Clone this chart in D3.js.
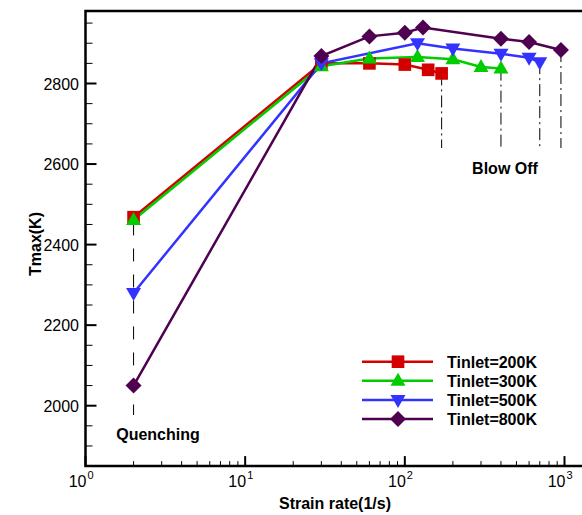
<!DOCTYPE html>
<html><head><meta charset="utf-8">
<script src="https://cdn.jsdelivr.net/npm/d3@7"></script>
<style>body{margin:0;background:#fff}svg{display:block}text{font-family:"Liberation Sans",Arial,sans-serif}</style>
</head><body><svg id="c" width="582" height="515"></svg>
<script>
const seriesNames = ["Tinlet=200K","Tinlet=300K","Tinlet=500K","Tinlet=800K"];
const colors = ["#d40000","#00cc00","#3333ff","#500050"];
const symbols = ["square","triangle","triangleDown","diamond"];
const strain200 = [2, 30, 60, 100, 140, 170];
const tmax200   = [2468, 2850, 2850, 2847, 2834, 2825];
const strain300 = [2, 30, 60, 120, 200, 300, 400];
const tmax300   = [2461, 2843, 2862, 2866, 2860, 2841, 2837];
const strain500 = [2, 30, 120, 200, 400, 600, 700];
const tmax500   = [2280, 2850, 2900, 2887, 2874, 2864, 2853];
const strain800 = [2, 30, 60, 100, 130, 400, 600, 950];
const tmax800   = [2050, 2868, 2917, 2926, 2939, 2911, 2903, 2883];
const yMajorTicks = [2000, 2200, 2400, 2600, 2800];
const xMajorTicks = [1, 10, 100, 1000];
const xTickExponents = ["0","1","2","3"];
const quenchStrain = 2;
const blowOffStrain = [170, 400, 700, 950];
const blowOffTmax = [2825, 2837, 2853, 2883];

const svg = d3.select("#c");
const x = d3.scaleLog().domain([1, 1000]).range([85.5, 564.5]);
const y = d3.scaleLinear().domain([2000, 2800]).range([405.7, 83.5]);
const pTop = y(2980), pBottom = y(1850), pLeft = x(1), pRight = 582;

const data = [
  strain200.map((s,i)=>[s,tmax200[i]]),
  strain300.map((s,i)=>[s,tmax300[i]]),
  strain500.map((s,i)=>[s,tmax500[i]]),
  strain800.map((s,i)=>[s,tmax800[i]])
];

const xMinor = [];
for (let d = 1; d <= 1000; d *= 10) for (let k = 2; k <= 9; k++) if (x(d*k) < pRight) xMinor.push(d*k);
const yMinor = d3.range(1850, 2981, 50).filter(v => !yMajorTicks.includes(v));

const g = svg.append("g");
g.selectAll(".xm").data(xMinor).join("line")
  .attr("x1", d=>x(d)).attr("x2", d=>x(d)).attr("y1", pBottom).attr("y2", pBottom-5)
  .attr("stroke","#000").attr("stroke-width",1);
g.selectAll(".xM").data(xMajorTicks).join("line")
  .attr("x1", d=>x(d)).attr("x2", d=>x(d)).attr("y1", pBottom).attr("y2", pBottom-10)
  .attr("stroke","#000").attr("stroke-width",2);
g.selectAll(".ym").data(yMinor).join("line")
  .attr("x1", pLeft).attr("x2", pLeft+7).attr("y1", d=>y(d)).attr("y2", d=>y(d))
  .attr("stroke","#000").attr("stroke-width",1);
g.selectAll(".yM").data(yMajorTicks).join("line")
  .attr("x1", pLeft).attr("x2", pLeft+11).attr("y1", d=>y(d)).attr("y2", d=>y(d))
  .attr("stroke","#000").attr("stroke-width",2);

g.append("path").attr("d", `M${pRight},${pTop}H${pLeft}V${pBottom}H${pRight}`)
  .attr("fill","none").attr("stroke","#000").attr("stroke-width",2.5);

g.selectAll(".yl").data(yMajorTicks).join("text")
  .attr("x", 79).attr("y", d=>y(d)+6).attr("text-anchor","end")
  .attr("font-size",16).text(d=>d);
xMajorTicks.forEach((d,i)=>{
  g.append("text").attr("x", x(d)+1).attr("y", 487).attr("text-anchor","end")
    .attr("font-size",16).text("10");
  g.append("text").attr("x", x(d)+2).attr("y", 479).attr("font-size",11).text(xTickExponents[i]);
});

g.append("text").attr("x", 335).attr("y", 509).attr("text-anchor","middle")
  .attr("font-size",16).attr("font-weight","bold").text("Strain rate(1/s)");
g.append("text").attr("transform","translate(41,244) rotate(-90)").attr("text-anchor","middle")
  .attr("font-size",16).attr("font-weight","bold").text("Tmax(K)");

g.append("line").attr("x1", x(quenchStrain)).attr("x2", x(quenchStrain))
  .attr("y1", y(2455)).attr("y2", 415).attr("stroke","#000").attr("stroke-width",1)
  .attr("stroke-dasharray","13,13");
blowOffStrain.forEach((s,i)=>{
  g.append("line").attr("x1", x(s)).attr("x2", x(s)).attr("y1", y(blowOffTmax[i])).attr("y2", 148)
    .attr("stroke","#000").attr("stroke-width",1).attr("stroke-dasharray","12,4,2,4");
});

g.append("text").attr("x", 158).attr("y", 440).attr("text-anchor","middle")
  .attr("font-size",16).attr("font-weight","bold").text("Quenching");
g.append("text").attr("x", 505).attr("y", 174).attr("text-anchor","middle")
  .attr("font-size",16).attr("font-weight","bold").text("Blow Off");

const line = d3.line().x(d=>x(d[0])).y(d=>y(d[1]));
function sym(k){
  if (k==="square") return d3.symbol(d3.symbolSquare, 160)();
  if (k==="diamond") return "M0,-8L8,0L0,8L-8,0Z";
  if (k==="triangle") return "M0,-8L7.5,5L-7.5,5Z";
  return "M0,8L7.5,-5L-7.5,-5Z";
}
data.forEach((ser,i)=>{
  g.append("path").datum(ser).attr("d", line).attr("fill","none")
    .attr("stroke", colors[i]).attr("stroke-width",2.5);
});
data.forEach((ser,i)=>{
  g.selectAll(null).data(ser).join("path")
    .attr("transform", d=>`translate(${x(d[0])},${y(d[1])})`)
    .attr("d", sym(symbols[i])).attr("fill", colors[i]);
});

const ly = [361.7, 380.7, 400, 419];
seriesNames.forEach((n,i)=>{
  g.append("line").attr("x1",362).attr("x2",433).attr("y1",ly[i]).attr("y2",ly[i])
    .attr("stroke",colors[i]).attr("stroke-width",2.5);
  g.append("path").attr("transform",`translate(398,${ly[i]})`).attr("d",sym(symbols[i])).attr("fill",colors[i]);
  g.append("text").attr("x",447).attr("y",ly[i]+6).attr("font-size",16).attr("font-weight","bold").text(n);
});
</script></body></html>
